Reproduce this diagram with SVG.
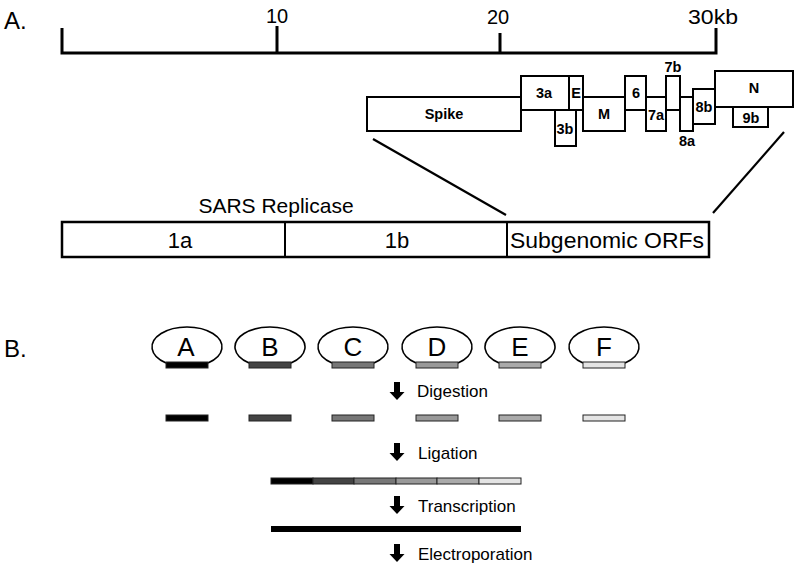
<svg xmlns="http://www.w3.org/2000/svg" width="800" height="572" viewBox="0 0 800 572">
<style>
text{font-family:"Liberation Sans",Arial,sans-serif;fill:#000}
.lbl{font-size:24px}
.scale{font-size:20px}
.gene{fill:#fff;stroke:#000;stroke-width:2}
.gl{font-size:14.5px;font-weight:bold;text-anchor:middle}
.rep{fill:#fff;stroke:#000;stroke-width:2.5}
.rt{font-size:22px;text-anchor:middle}
.ln{stroke:#000;stroke-width:2.2;fill:none}
.plas{fill:#fff;stroke:#000;stroke-width:1.6}
.pl{font-size:26px;text-anchor:middle}
.bar{stroke:#222;stroke-width:1}
.step{font-size:17px}
</style>
<defs>
<path id="arr" d="M-3,-18 h6 v10 h4.5 l-7.5,8 l-7.5,-8 h4.5 z" fill="#000"/>
</defs>
<text class="lbl" x="4" y="29">A.</text>
<g id="scale">
<path d="M62,28 V53 H716 V28 M277,26 V53 M500,33 V53" stroke="#000" stroke-width="3" fill="none"/>
<text class="scale" x="277" y="23" text-anchor="middle">10</text>
<text class="scale" x="498" y="24" text-anchor="middle">20</text>
<text class="scale" x="688" y="24" textLength="50" lengthAdjust="spacingAndGlyphs">30kb</text>
</g>
<g id="genes">
<g id="spike"><rect class="gene" x="367" y="97" width="154" height="34"/><text class="gl" x="444" y="119">Spike</text></g>
<g id="g3b"><rect class="gene" x="555" y="110" width="21" height="36"/><text class="gl" x="565" y="134">3b</text></g>
<g id="g3a"><rect class="gene" x="521" y="76" width="48" height="34"/><text class="gl" x="544" y="98">3a</text></g>
<g id="gE"><rect class="gene" x="569" y="76" width="14" height="34"/><text class="gl" x="576" y="98">E</text></g>
<g id="gM"><rect class="gene" x="583" y="97" width="42" height="34"/><text class="gl" x="604" y="119">M</text></g>
<g id="g6"><rect class="gene" x="625" y="76" width="21" height="34"/><text class="gl" x="636" y="98">6</text></g>
<g id="g7a"><rect class="gene" x="646" y="97" width="20" height="34"/><text class="gl" x="656" y="120">7a</text></g>
<g id="g7b"><rect class="gene" x="666" y="76" width="14" height="34"/><text class="gl" x="673" y="72">7b</text></g>
<g id="g8a"><rect class="gene" x="680" y="97" width="13" height="34"/><text class="gl" x="687" y="146">8a</text></g>
<g id="g8b"><rect class="gene" x="693" y="89" width="22" height="35"/><text class="gl" x="704" y="112">8b</text></g>
<g id="gN"><rect class="gene" x="715" y="71" width="78" height="36"/><text class="gl" x="754" y="93">N</text></g>
<g id="g9b"><rect class="gene" x="733" y="107" width="35" height="20"/><text class="gl" x="751" y="123">9b</text></g>
</g>
<g id="connectors">
<line class="ln" x1="373" y1="139" x2="506" y2="215"/>
<line class="ln" x1="784" y1="132" x2="713" y2="213"/>
</g>
<g id="replicase">
<text class="rt" x="276" y="213" style="font-size:21px">SARS Replicase</text>
<rect class="rep" x="62" y="222" width="647" height="35"/>
<line x1="285" y1="222" x2="285" y2="257" stroke="#000" stroke-width="2"/>
<line x1="507" y1="222" x2="507" y2="257" stroke="#000" stroke-width="2"/>
<text class="rt" x="180" y="248">1a</text>
<text class="rt" x="397" y="248">1b</text>
<text class="rt" x="607" y="248" textLength="194" lengthAdjust="spacingAndGlyphs">Subgenomic ORFs</text>
</g>
<text class="lbl" x="4" y="357">B.</text>
<g id="plasmids">
<g id="pA"><path class="plas" d="M166,363 A35,20 0 1 1 208,363"/><rect x="166" y="362" width="42" height="6" fill="#000" class="bar"/><text class="pl" x="186" y="356">A</text></g>
<g id="pB"><path class="plas" d="M249,363 A35,20 0 1 1 291,363"/><rect x="249" y="362" width="42" height="6" fill="#444" class="bar"/><text class="pl" x="270" y="356">B</text></g>
<g id="pC"><path class="plas" d="M332,363 A35,20 0 1 1 374,363"/><rect x="332" y="362" width="42" height="6" fill="#777" class="bar"/><text class="pl" x="353" y="356">C</text></g>
<g id="pD"><path class="plas" d="M416,363 A35,20 0 1 1 458,363"/><rect x="416" y="362" width="42" height="6" fill="#999" class="bar"/><text class="pl" x="437" y="356">D</text></g>
<g id="pE"><path class="plas" d="M499,363 A35,20 0 1 1 541,363"/><rect x="499" y="362" width="42" height="6" fill="#aaa" class="bar"/><text class="pl" x="520" y="356">E</text></g>
<g id="pF"><path class="plas" d="M583,363 A35,20 0 1 1 625,363"/><rect x="583" y="362" width="42" height="6" fill="#e4e4e4" class="bar"/><text class="pl" x="604" y="356">F</text></g>
</g>
<g id="fragments">
<rect x="166" y="415" width="42" height="6" fill="#000" class="bar"/>
<rect x="249" y="415" width="42" height="6" fill="#444" class="bar"/>
<rect x="332" y="415" width="42" height="6" fill="#777" class="bar"/>
<rect x="416" y="415" width="42" height="6" fill="#999" class="bar"/>
<rect x="499" y="415" width="42" height="6" fill="#aaa" class="bar"/>
<rect x="583" y="415" width="42" height="6" fill="#e4e4e4" class="bar"/>
</g>
<g id="ligated">
<rect x="271" y="478" width="42" height="6" fill="#000" class="bar"/>
<rect x="313" y="478" width="41" height="6" fill="#444" class="bar"/>
<rect x="354" y="478" width="42" height="6" fill="#777" class="bar"/>
<rect x="396" y="478" width="41" height="6" fill="#999" class="bar"/>
<rect x="437" y="478" width="42" height="6" fill="#aaa" class="bar"/>
<rect x="479" y="478" width="42" height="6" fill="#e4e4e4" class="bar"/>
</g>
<g id="transcript"><rect x="271" y="526" width="250" height="6" fill="#000"/></g>
<g id="steps">
<use href="#arr" x="397" y="400"/><text class="step" x="417" y="397">Digestion</text>
<use href="#arr" x="397" y="461"/><text class="step" x="418" y="459">Ligation</text>
<use href="#arr" x="397" y="514"/><text class="step" x="418" y="512">Transcription</text>
<use href="#arr" x="397" y="562"/><text class="step" x="418" y="560">Electroporation</text>
</g>
</svg>
